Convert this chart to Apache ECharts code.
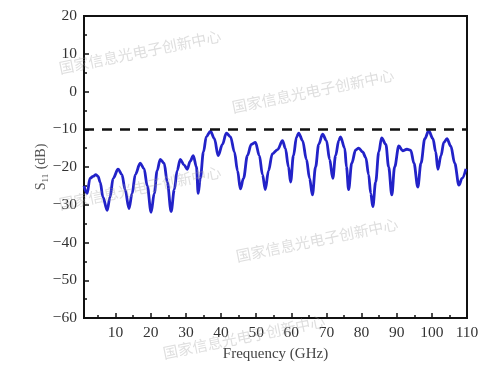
<!DOCTYPE html>
<html><head><meta charset="utf-8">
<script src="https://cdn.jsdelivr.net/npm/echarts@6/dist/echarts.min.js"></script>
<style>html,body{margin:0;padding:0;background:#fff}#c{width:500px;height:367px}</style>
</head><body><div id="c"></div>
<script>
// Frequency (GHz)
const freq = [1.0,1.9,2.7,3.6,4.4,5.0,5.6,6.4,7.6,8.4,9.3,10.7,11.8,12.7,13.8,14.7,15.6,17.0,18.1,19.0,20.1,21.0,21.8,22.7,23.8,24.7,25.8,26.7,27.5,28.4,29.5,30.4,31.2,32.1,33.0,33.5,34.1,35.0,35.8,37.0,38.1,39.2,40.4,41.5,42.7,43.8,44.7,45.5,46.4,47.5,48.6,49.8,50.9,51.8,52.6,53.5,54.6,56.1,57.5,58.3,59.2,59.8,60.6,61.5,62.1,63.2,64.3,65.2,66.0,66.9,67.8,68.9,70.0,70.9,71.8,72.6,73.5,74.0,75.2,75.7,76.3,77.2,78.3,79.2,80.3,81.2,82.0,82.6,83.2,84.0,84.9,85.7,86.9,87.7,88.6,89.4,90.6,91.7,92.9,94.0,94.9,96.0,96.9,98.0,99.1,100.3,101.1,101.7,102.6,103.4,104.3,105.4,106.5,107.7,108.6,109.7];
// S11 (dB)
const s11 = [-25,-27,-23,-22.5,-22,-22.5,-24,-28,-31.5,-28,-23,-20.6,-22,-26,-31,-27,-22,-19,-20.5,-25,-32,-27,-21,-18,-19,-24,-31.8,-26,-21,-18,-19.5,-20.6,-18.5,-17,-20,-27,-23,-16,-12,-10.5,-12.5,-17,-14,-11,-12,-16,-21,-25.8,-23,-17,-14,-13.5,-17,-22,-26,-21,-16.5,-15.4,-13,-15,-20,-24,-17,-12,-11,-13,-18,-23,-27.4,-20,-14,-11.3,-13,-18,-23,-17,-13,-12,-15,-20,-26,-19,-15.5,-15,-16,-17.5,-22,-27,-30.5,-24,-16,-12.3,-14,-20,-27.4,-20,-14.4,-15.7,-15.3,-15.6,-19,-25.3,-19,-12.5,-10.4,-12.5,-16,-20.6,-17,-13.5,-12.5,-14.5,-19,-24.8,-23,-20.5];
const threshold = -10;
const xMajorTicks = [10,20,30,40,50,60,70,80,90,100,110];
const xMinorTicks = [5,15,25,35,45,55,65,75,85,95,105];
const watermark = '国家信息光电子创新中心';
const wmCenters = [[140,52],[313,91],[140,188],[317,240],[244,337]];

const chart = echarts.init(document.getElementById('c'));
const serif = 'Liberation Serif';
const data = freq.map((f,i)=>[f,s11[i]]);
chart.setOption({
  animation:false,
  grid:{left:84,top:16,right:33,bottom:44,show:true,borderColor:'#111',borderWidth:2,backgroundColor:'transparent'},
  xAxis:[{
    type:'value',min:1,max:110,
    axisLine:{show:true,onZero:false,lineStyle:{color:'#111',width:2}},
    axisTick:{show:true,inside:true,length:5,lineStyle:{color:'#111',width:1.5},customValues:xMajorTicks},
    axisLabel:{customValues:xMajorTicks,fontFamily:serif,fontSize:15.5,color:'#333',margin:7},
    splitLine:{show:false},
    name:'Frequency (GHz)',nameLocation:'middle',nameGap:29,nameMoveOverlap:false,
    nameTextStyle:{fontFamily:serif,fontSize:15,color:'#444'}
  },{
    type:'value',min:1,max:110,position:'bottom',
    axisLine:{show:false,onZero:false},
    axisTick:{show:true,inside:true,length:3,lineStyle:{color:'#111',width:1.5},customValues:xMinorTicks},
    axisLabel:{show:false},splitLine:{show:false}
  }],
  yAxis:{
    type:'value',min:-60,max:20,interval:10,
    axisLine:{show:true,onZero:false,lineStyle:{color:'#111',width:2}},
    axisTick:{show:true,inside:true,length:5,lineStyle:{color:'#111',width:1.5}},
    minorTick:{show:true,splitNumber:2,length:3,lineStyle:{color:'#111',width:1.5}},
    axisLabel:{fontFamily:serif,fontSize:15.5,color:'#333',margin:7,
      formatter:v=>String(v).replace('-','\u2212')},
    splitLine:{show:false},
    name:'{s|S}{sub|11}{s| (dB)}',nameLocation:'middle',nameGap:34,nameRotate:90,nameMoveOverlap:false,
    nameTextStyle:{rich:{
      s:{fontFamily:serif,fontSize:14,color:'#555'},
      sub:{fontFamily:serif,fontSize:9,color:'#555',padding:[8,1,0,0]}
    }}
  },
  series:[{
    type:'line',data:data,xAxisIndex:0,showSymbol:false,smooth:0.35,smoothMonotone:'x',
    lineStyle:{color:'#2222c8',width:2.8},
    markLine:{silent:true,symbol:'none',label:{show:false},
      lineStyle:{color:'#111',type:[10,8],width:2.5},
      data:[{yAxis:threshold}]},
    z:3
  }],
  graphic: wmCenters.map(c=>({
    type:'text',x:c[0],y:c[1],rotation:0.2,z:100,silent:true,
    style:{text:watermark,fontFamily:'Noto Sans CJK SC',fontSize:15,fill:'rgba(160,160,160,0.35)',
      textAlign:'center',textVerticalAlign:'middle'}
  }))
});
</script></body></html>
